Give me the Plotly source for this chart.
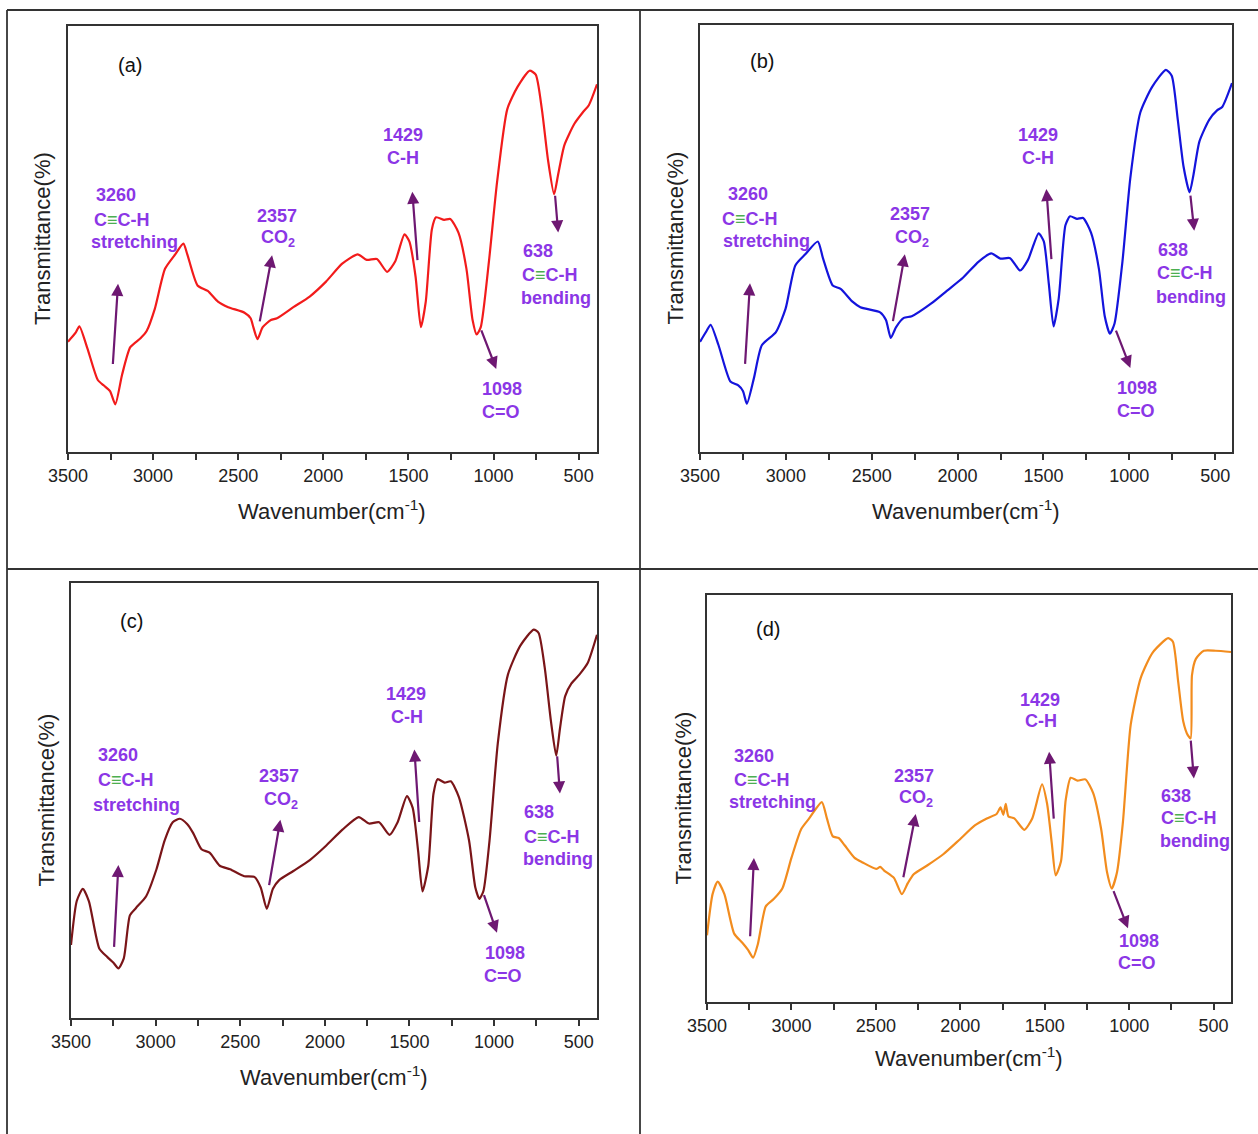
import plotly.graph_objects as go

W, H = 1258, 1134

# ---------------- spectra (transmittance on a 0-100 frame scale) ----------------
wn_a = [3500, 3455, 3433, 3385, 3325, 3289, 3253, 3222, 3182, 3134, 3074, 3038, 2990, 2930,
        2870, 2822, 2799, 2739, 2679, 2619, 2559, 2463, 2427, 2411, 2387, 2356, 2308, 2272,
        2176, 2080, 1984, 1889, 1798, 1745, 1685, 1625, 1578, 1523, 1494, 1458, 1427, 1398,
        1362, 1338, 1290, 1254, 1206, 1159, 1123, 1099, 1075, 1027, 979, 919, 859, 788, 752,
        716, 680, 644, 620, 584, 524, 476, 440, 392]
tr_a = [25.9, 28.0, 29.5, 24.2, 16.9, 15.6, 14.3, 11.2, 18.2, 24.6, 26.7, 28.4, 33.6, 43.0,
        46.4, 48.9, 46.4, 39.1, 37.8, 35.3, 34.0, 32.7, 31.4, 29.3, 26.5, 29.3, 31.0, 31.4,
        34.0, 36.5, 40.0, 44.2, 46.4, 45.1, 45.3, 42.3, 44.7, 51.1, 49.4, 41.2, 29.3, 35.3,
        52.3, 55.1, 54.5, 54.7, 51.5, 43.0, 31.0, 27.6, 29.3, 44.7, 63.4, 80.5, 85.7, 89.5, 88.6,
        80.5, 68.6, 60.5, 65.2, 72.0, 77.1, 79.7, 81.4, 86.3]

wn_b = [3500, 3461, 3438, 3392, 3323, 3277, 3250, 3227, 3186, 3140, 3059, 3002, 2945, 2887,
        2814, 2784, 2727, 2681, 2612, 2566, 2451, 2417, 2389, 2359, 2313, 2267, 2153, 2061,
        1969, 1877, 1804, 1751, 1694, 1636, 1590, 1528, 1498, 1469, 1441, 1411, 1372, 1345,
        1304, 1269, 1223, 1177, 1143, 1113, 1086, 1040, 994, 936, 867, 787, 753, 718, 684,
        649, 626, 592, 535, 489, 459, 402]
tr_b = [25.8, 28.4, 29.8, 25.0, 16.5, 15.6, 14.3, 11.3, 17.3, 25.0, 28.0, 33.5, 43.7, 46.3,
        49.3, 45.4, 39.0, 38.2, 35.2, 33.9, 32.7, 30.9, 26.7, 29.2, 31.4, 31.8, 34.8, 37.8,
        40.8, 44.6, 46.5, 45.3, 45.4, 42.5, 45.0, 51.2, 49.3, 39.5, 29.4, 36.0, 53.1, 55.2,
        54.6, 54.8, 51.4, 42.9, 31.8, 27.7, 30.1, 44.6, 64.2, 79.5, 85.5, 89.5, 88.1, 77.9, 66.8,
        60.8, 65.0, 72.7, 77.8, 80.0, 80.8, 86.4]

wn_c = [3500, 3466, 3430, 3394, 3333, 3285, 3249, 3220, 3188, 3152, 3116, 3056, 2995, 2947,
        2899, 2857, 2814, 2778, 2729, 2681, 2621, 2560, 2476, 2415, 2379, 2343, 2307, 2270,
        2186, 2089, 1993, 1896, 1800, 1739, 1679, 1618, 1570, 1515, 1481, 1449, 1423, 1389,
        1358, 1334, 1292, 1256, 1208, 1148, 1111, 1087, 1063, 1027, 978, 918, 845, 766, 737,
        701, 664, 633, 611, 580, 543, 495, 447, 392]
tr_c = [16.8, 26.9, 29.7, 26.8, 16.0, 14.0, 12.7, 11.4, 13.7, 23.6, 25.3, 28.0, 34.2, 40.8,
        45.0, 45.8, 44.6, 42.5, 38.8, 38.0, 35.0, 34.2, 32.6, 32.4, 30.0, 25.1, 29.7, 31.7,
        33.8, 36.3, 39.6, 43.3, 46.2, 44.7, 45.0, 42.1, 45.0, 51.0, 48.3, 38.4, 29.1, 35.0,
        51.6, 54.9, 54.1, 54.4, 50.8, 40.8, 30.0, 27.4, 29.2, 40.8, 63.2, 79.0, 85.6, 89.3, 88.5,
        80.6, 68.2, 60.3, 66.5, 74.0, 76.9, 79.0, 81.6, 88.1]

wn_d = [3500, 3467, 3437, 3397, 3339, 3292, 3257, 3227, 3199, 3152, 3105, 3054, 3000, 2942,
        2895, 2820, 2790, 2755, 2720, 2685, 2626, 2579, 2498, 2474, 2451, 2393, 2346, 2311,
        2276, 2194, 2101, 2007, 1914, 1843, 1785, 1762, 1745, 1731, 1715, 1680, 1621, 1574,
        1516, 1486, 1458, 1435, 1404, 1376, 1346, 1306, 1259, 1213, 1166, 1131, 1103, 1072,
        1037, 991, 932, 862, 769, 741, 710, 680, 652, 636, 628, 605, 558, 488, 397]
tr_d = [16.4, 26.5, 29.6, 26.5, 16.8, 14.6, 12.8, 10.9, 14.2, 23.5, 25.3, 27.9, 35.4, 42.5,
        45.1, 49.1, 45.1, 40.7, 40.3, 38.5, 35.4, 34.3, 32.7, 33.2, 32.3, 30.5, 26.5, 29.2,
        31.4, 33.6, 36.3, 39.8, 43.4, 45.1, 46.2, 47.8, 46.0, 48.7, 45.6, 45.1, 42.3, 45.1,
        53.5, 48.7, 38.9, 31.1, 34.5, 49.6, 55.1, 54.4, 54.7, 51.3, 42.5, 31.9, 27.9, 31.9,
        44.2, 68.1, 79.6, 85.8, 89.4, 88.5, 78.8, 69.0, 65.5, 64.8, 80.3, 84.3, 86.3, 86.3, 86.0]

# ---------------- band assignments ----------------
bands = [3260, 2357, 1429, 1098, 638]
band_names = [["C≡C-H", "stretching"], ["CO<sub>2</sub>"], ["C-H"], ["C=O"], ["C≡C-H", "bending"]]
tick_values = [3500, 3000, 2500, 2000, 1500, 1000, 500]

# ---------------- styling / placement ----------------
LABEL_COLOR = "#8b36e6"
ARROW_COLOR = "#6e1872"
TRIPLE_COLOR = "#4caf50"
FRAME_COLOR = "#333333"
FONT = "Arial, 'Liberation Sans', sans-serif"

# frame boxes in pixels: left, right, top, bottom
panels = [
    dict(tag="(a)", wn=wn_a, tr=tr_a, color="#f21b1b", box=(68, 597, 26, 452), xend=392,
         title_x=42, xtitle_y=510, tag_pos=(3138, 90.9),
         arrows=[(-23, 20.3, -54, 39.5), (18, 30.3, -56, 46.2), (17, 44.7, 48, 61.1),
                 (-23, 28.9, -114, 19.5), (1, 60.5, -18, 51.5)],
         labels=[[(3217, 60.3), (3182, 54.5), (3110, 49.2)], [(2272, 55.5), (2267, 50.0)],
                 [(1530, 74.3), (1530, 69.0)], [(948, 14.8), (955, 9.5)],
                 [(740, 47.2), (668, 41.5), (632, 36.1)]]),
    dict(tag="(b)", wn=wn_b, tr=tr_b, color="#1414dc", box=(700, 1232, 25, 452), xend=402,
         title_x=675, xtitle_y=510, tag_pos=(3140, 91.6),
         arrows=[(-22, 20.3, -51, 39.5), (21, 30.3, -50, 46.3), (24, 44.8, 54, 61.6),
                 (-17, 28.8, -104, 19.7), (7, 60.4, -16, 51.8)],
         labels=[[(3220, 60.4), (3209, 54.6), (3112, 49.3)], [(2279, 55.7), (2268, 50.1)],
                 [(1533, 74.3), (1533, 68.9)], [(955, 14.9), (959, 9.6)],
                 [(748, 47.4), (677, 41.9), (638, 36.2)]]),
    dict(tag="(c)", wn=wn_c, tr=tr_c, color="#7a1518", box=(71, 597, 583, 1018), xend=392,
         title_x=46, xtitle_y=1076, tag_pos=(3145, 91.2),
         arrows=[(-14, 16.0, -40, 35.2), (-26, 30.2, -94, 45.6), (13, 44.7, 42, 61.7),
                 (-35, 28.6, -115, 19.6), (-10, 60.5, -27, 51.6)],
         labels=[[(3220, 60.5), (3176, 54.7), (3111, 49.0)], [(2271, 55.7), (2258, 50.0)],
                 [(1522, 74.4), (1517, 69.2)], [(937, 14.9), (947, 9.7)],
                 [(732, 47.4), (659, 41.7), (621, 36.5)]]),
    dict(tag="(d)", wn=wn_d, tr=tr_d, color="#f28c1e", box=(707, 1231, 595, 1002), xend=397,
         title_x=683, xtitle_y=1057, tag_pos=(3140, 91.7),
         arrows=[(-15, 15.8, -38, 35.4), (-18, 30.3, -93, 46.2), (17, 44.7, 45, 61.5),
                 (-2, 27.6, -91, 18.1), (-2, 64.6, -21, 54.9)],
         labels=[[(3222, 60.4), (3175, 54.6), (3112, 49.1)], [(2276, 55.6), (2264, 50.0)],
                 [(1528, 74.3), (1523, 69.0)], [(944, 14.9), (951, 9.6)],
                 [(722, 50.7), (647, 45.1), (610, 39.6)]]),
]


def px(x):
    return x / W


def py(y):
    return 1 - y / H


fig = go.Figure()
annotations = []
shapes = []
layout_axes = {}

for i, p in enumerate(panels, start=1):
    assert len(p["wn"]) == len(p["tr"])
    xa = "x" if i == 1 else f"x{i}"
    ya = "y" if i == 1 else f"y{i}"
    left, right, top, bottom = p["box"]

    fig.add_trace(go.Scatter(
        x=p["wn"], y=p["tr"], mode="lines", xaxis=xa, yaxis=ya,
        line=dict(color=p["color"], width=2.2, shape="spline", smoothing=0.6),
        showlegend=False, hoverinfo="skip"))

    layout_axes["xaxis" if i == 1 else f"xaxis{i}"] = dict(
        domain=[px(left), px(right)], anchor=ya, range=[3500, p["xend"]],
        automargin=False,
        tickmode="array", tickvals=tick_values, ticktext=[str(v) for v in tick_values],
        ticks="outside", ticklen=6, tickwidth=1.5, tickcolor=FRAME_COLOR,
        minor=dict(ticks="outside", ticklen=6, tickwidth=1.5, tickcolor=FRAME_COLOR,
                   tickmode="array", tickvals=[3250, 2750, 2250, 1750, 1250, 750]),
        showline=True, linecolor=FRAME_COLOR, linewidth=1.8, mirror=True,
        showgrid=False, zeroline=False,
        tickfont=dict(family=FONT, size=18, color="#222222"))
    layout_axes["yaxis" if i == 1 else f"yaxis{i}"] = dict(
        domain=[py(bottom), py(top)], anchor=xa, range=[0, 100], automargin=False,
        showticklabels=False, ticks="", showline=True, linecolor=FRAME_COLOR,
        linewidth=1.8, mirror=True, showgrid=False, zeroline=False)

    # axis titles
    annotations.append(dict(
        xref="paper", yref="paper", x=px((left + right) / 2), y=py(p["xtitle_y"]),
        text="Wavenumber(cm<sup>-1</sup>)", showarrow=False, xanchor="center", yanchor="middle",
        font=dict(family=FONT, size=22, color="#222222")))
    annotations.append(dict(
        xref="paper", yref="paper", x=px(p["title_x"]), y=py((top + bottom) / 2),
        text="Transmittance(%)", showarrow=False, textangle=-90,
        xanchor="center", yanchor="middle",
        font=dict(family=FONT, size=22, color="#222222")))

    # panel tag
    annotations.append(dict(
        xref=xa, yref=ya, x=p["tag_pos"][0], y=p["tag_pos"][1], text=p["tag"],
        showarrow=False, font=dict(family=FONT, size=20, color="#111111")))

    # band arrows and labels
    for band, names, arr, pos in zip(bands, band_names, p["arrows"], p["labels"]):
        tdx, ty, hdx, hy = arr
        annotations.append(dict(
            xref=xa, yref=ya, axref=xa, ayref=ya,
            x=band + hdx, y=hy, ax=band + tdx, ay=ty, text="",
            showarrow=True, arrowhead=2, arrowsize=1.1, arrowwidth=2.2,
            arrowcolor=ARROW_COLOR))
        lines = [str(band)] + names
        for line, (lx, ly) in zip(lines, pos):
            txt = line.replace("≡", f"<span style='color:{TRIPLE_COLOR}'>≡</span>")
            annotations.append(dict(
                xref=xa, yref=ya, x=lx, y=ly, text=f"<b>{txt}</b>", showarrow=False,
                xanchor="center", yanchor="middle",
                font=dict(family=FONT, size=18, color=LABEL_COLOR)))

# cell borders of the 2x2 layout
for x0, y0, x1, y1 in [(7, 10, W, 10), (7, 10, 7, H), (640, 10, 640, H), (7, 569, W, 569)]:
    shapes.append(dict(type="line", xref="paper", yref="paper",
                       x0=px(x0), y0=py(y0), x1=px(x1), y1=py(y1),
                       line=dict(color=FRAME_COLOR, width=1.8)))

fig.update_layout(
    template="none",
    width=W, height=H, margin=dict(l=0, r=0, t=0, b=0, autoexpand=False),
    paper_bgcolor="white", plot_bgcolor="white",
    annotations=annotations, shapes=shapes, **layout_axes)

fig.write_html("out.html")
